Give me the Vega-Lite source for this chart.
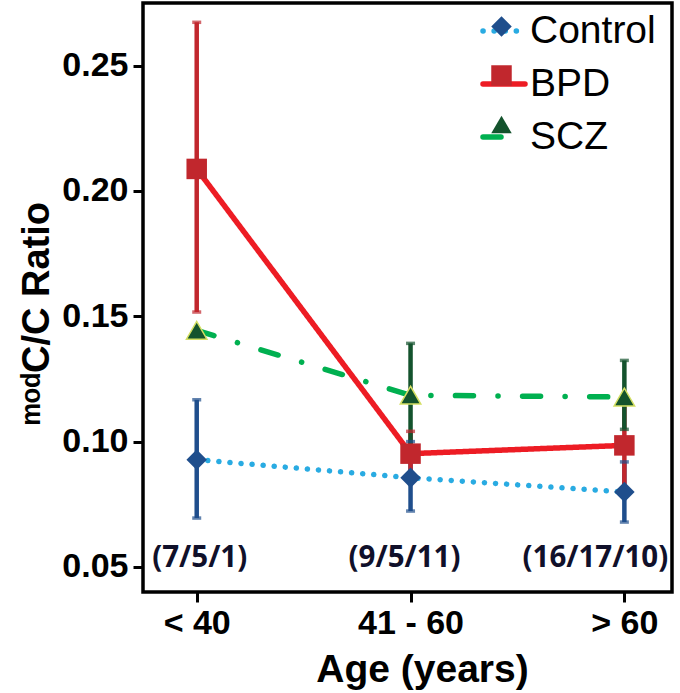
{
  "$schema": "https://vega.github.io/schema/vega-lite/v6.json",
  "width": 529,
  "height": 589,
  "autosize": {"type": "none"},
  "padding": {"left": 143, "top": 3, "right": 8, "bottom": 101},
  "background": "white",
  "datasets": {
    "points": [
      {"age": "< 40", "group": "Control", "ratio": 0.0928, "lo": 0.0695, "hi": 0.1167},
      {"age": "41 - 60", "group": "Control", "ratio": 0.0856, "lo": 0.0723, "hi": 0.1000},
      {"age": "> 60", "group": "Control", "ratio": 0.0799, "lo": 0.0679, "hi": 0.0919},
      {"age": "< 40", "group": "BPD", "ratio": 0.2088, "lo": 0.1517, "hi": 0.2673},
      {"age": "41 - 60", "group": "BPD", "ratio": 0.0952, "lo": 0.0863, "hi": 0.1041},
      {"age": "> 60", "group": "BPD", "ratio": 0.0985, "lo": 0.0806, "hi": 0.1164},
      {"age": "< 40", "group": "SCZ", "ratio": 0.1444, "lo": null, "hi": null},
      {"age": "41 - 60", "group": "SCZ", "ratio": 0.1185, "lo": 0.0978, "hi": 0.1392},
      {"age": "> 60", "group": "SCZ", "ratio": 0.1178, "lo": 0.1049, "hi": 0.1324}
    ],
    "counts": [
      {"age": "< 40", "n": "(7/5/1)"},
      {"age": "41 - 60", "n": "(9/5/11)"},
      {"age": "> 60", "n": "(16/17/10)"}
    ]
  },
  "data": {"name": "points"},
  "encoding": {
    "x": {
      "field": "age",
      "type": "ordinal",
      "sort": ["< 40", "41 - 60", "> 60"],
      "scale": {"type": "point", "padding": 0.237, "align": 0.53},
      "axis": {
        "title": "Age (years)",
        "labelAngle": 0,
        "labelFontSize": 34,
        "labelPadding": 4,
        "titleFontSize": 39,
        "titleX": 279,
        "titleY": 89,
        "titleBaseline": "alphabetic"
      }
    }
  },
  "layer": [
    {
      "mark": {"type": "line", "strokeWidth": 5.5, "strokeCap": "round"},
      "encoding": {
        "y": {
          "field": "ratio", "type": "quantitative",
          "scale": {"domain": [0.04, 0.275], "nice": false, "zero": false},
          "axis": {"title": "ᵐᵒᵈC/C Ratio", "values": [0.05, 0.1, 0.15, 0.2, 0.25], "format": ".2f", "labelFontSize": 34, "labelPadding": 5, "titleFontSize": 38, "titleX": -95, "titleY": 310, "titleBaseline": "alphabetic"}
        },
        "stroke": {
          "field": "group",
          "type": "nominal",
          "scale": {"domain": ["Control", "BPD", "SCZ"], "range": ["#29abe2", "#ed1c24", "#00b050"]},
          "legend": {
            "orient": "none", "legendX": 337, "legendY": 4, "title": null,
            "labelFont": "Liberation Sans", "labelFontSize": 39, "labelColor": "black", "labelOffset": 2,
            "symbolType": "stroke", "symbolSize": 1764, "symbolStrokeWidth": 5.5, "rowPadding": 9, "padding": 0,
            "encode": {"symbols": {"update": {"strokeCap": {"value": "round"}}}}
          }
        },
        "strokeDash": {
          "field": "group",
          "type": "nominal",
          "scale": {"domain": ["Control", "BPD", "SCZ"], "range": [[0.1, 11], [1, 0], [18, 24.5, 0.1, 24.5]]},
          "legend": {
            "orient": "none", "legendX": 337, "legendY": 4, "title": null,
            "labelFont": "Liberation Sans", "labelFontSize": 39, "labelColor": "black", "labelOffset": 2,
            "symbolType": "stroke", "symbolSize": 1764, "symbolStrokeWidth": 5.5, "rowPadding": 9, "padding": 0,
            "encode": {"symbols": {"update": {"strokeCap": {"value": "round"}}}}
          }
        }
      }
    },
    {
      "mark": {"type": "rule", "strokeWidth": 4.5},
      "encoding": {
        "y": {
          "field": "lo", "type": "quantitative",
          "scale": {"domain": [0.04, 0.275], "nice": false, "zero": false},
          "axis": {"title": "ᵐᵒᵈC/C Ratio", "values": [0.05, 0.1, 0.15, 0.2, 0.25], "format": ".2f", "labelFontSize": 34, "labelPadding": 5, "titleFontSize": 38, "titleX": -95, "titleY": 310, "titleBaseline": "alphabetic"}
        },
        "y2": {"field": "hi"},
        "color": {
          "field": "group", "type": "nominal",
          "scale": {"domain": ["Control", "BPD", "SCZ"], "range": ["#1f4e8c", "#c1272d", "#14532d"]},
          "legend": null
        }
      }
    },
    {
      "mark": {"type": "tick", "thickness": 3.5, "size": 9},
      "encoding": {
        "y": {
          "field": "lo", "type": "quantitative",
          "scale": {"domain": [0.04, 0.275], "nice": false, "zero": false},
          "axis": {"title": "ᵐᵒᵈC/C Ratio", "values": [0.05, 0.1, 0.15, 0.2, 0.25], "format": ".2f", "labelFontSize": 34, "labelPadding": 5, "titleFontSize": 38, "titleX": -95, "titleY": 310, "titleBaseline": "alphabetic"}
        },
        "color": {"field": "group", "type": "nominal", "legend": null}
      }
    },
    {
      "mark": {"type": "tick", "thickness": 3.5, "size": 9},
      "encoding": {
        "y": {
          "field": "hi", "type": "quantitative",
          "scale": {"domain": [0.04, 0.275], "nice": false, "zero": false},
          "axis": {"title": "ᵐᵒᵈC/C Ratio", "values": [0.05, 0.1, 0.15, 0.2, 0.25], "format": ".2f", "labelFontSize": 34, "labelPadding": 5, "titleFontSize": 38, "titleX": -95, "titleY": 310, "titleBaseline": "alphabetic"}
        },
        "color": {"field": "group", "type": "nominal", "legend": null}
      }
    },
    {
      "mark": {"type": "point", "filled": true, "size": 420, "opacity": 1, "strokeWidth": 1.5},
      "encoding": {
        "y": {
          "field": "ratio", "type": "quantitative",
          "scale": {"domain": [0.04, 0.275], "nice": false, "zero": false},
          "axis": {"title": "ᵐᵒᵈC/C Ratio", "values": [0.05, 0.1, 0.15, 0.2, 0.25], "format": ".2f", "labelFontSize": 34, "labelPadding": 5, "titleFontSize": 38, "titleX": -95, "titleY": 310, "titleBaseline": "alphabetic"}
        },
        "fill": {
          "field": "group", "type": "nominal", "sort": {"field": "ratio", "op": "min"},
          "scale": {"range": ["#1f4e8c", "#c1272d", "#14532d"]},
          "legend": {
            "orient": "none", "legendX": 339, "legendY": 4, "title": null,
            "labelExpr": "' '",
            "labelFont": "Liberation Sans", "labelFontSize": 39, "labelOpacity": 0, "labelOffset": 2,
            "symbolSize": 420, "symbolStrokeWidth": 0, "rowPadding": 9, "padding": 0
          }
        },
        "shape": {
          "field": "group", "type": "nominal", "sort": {"field": "ratio", "op": "min"},
          "scale": {"range": ["diamond", "square", "triangle-up"]},
          "legend": {
            "orient": "none", "legendX": 339, "legendY": 4, "title": null,
            "labelExpr": "' '",
            "labelFont": "Liberation Sans", "labelFontSize": 39, "labelOpacity": 0, "labelOffset": 2,
            "symbolSize": 420, "symbolStrokeWidth": 0, "rowPadding": 9, "padding": 0
          }
        },
        "stroke": {"condition": {"test": "datum.group === 'SCZ'", "value": "#d4df63"}, "value": "transparent"}
      }
    },
    {
      "data": {"name": "counts"},
      "transform": [{"filter": "datum.age === '< 40'"}],
      "mark": {"type": "text", "font": "Open Sans", "fontWeight": "bold", "fontSize": 29.5, "color": "#10102a", "dx": 3, "baseline": "middle"},
      "encoding": {
        "text": {"field": "n"},
        "y": {"datum": 0.0537, "type": "quantitative", "scale": {"domain": [0.04, 0.275], "nice": false, "zero": false},
          "axis": {"title": "ᵐᵒᵈC/C Ratio", "values": [0.05, 0.1, 0.15, 0.2, 0.25], "format": ".2f", "labelFontSize": 34, "labelPadding": 5, "titleFontSize": 38, "titleX": -95, "titleY": 310, "titleBaseline": "alphabetic"}}
      }
    },
    {
      "data": {"name": "counts"},
      "transform": [{"filter": "datum.age === '41 - 60'"}],
      "mark": {"type": "text", "font": "Open Sans", "fontWeight": "bold", "fontSize": 29.5, "color": "#10102a", "dx": -6, "baseline": "middle"},
      "encoding": {
        "text": {"field": "n"},
        "y": {"datum": 0.0537, "type": "quantitative", "scale": {"domain": [0.04, 0.275], "nice": false, "zero": false},
          "axis": {"title": "ᵐᵒᵈC/C Ratio", "values": [0.05, 0.1, 0.15, 0.2, 0.25], "format": ".2f", "labelFontSize": 34, "labelPadding": 5, "titleFontSize": 38, "titleX": -95, "titleY": 310, "titleBaseline": "alphabetic"}}
      }
    },
    {
      "data": {"name": "counts"},
      "transform": [{"filter": "datum.age === '> 60'"}],
      "mark": {"type": "text", "font": "Open Sans", "fontWeight": "bold", "fontSize": 29.5, "color": "#10102a", "dx": -29, "baseline": "middle"},
      "encoding": {
        "text": {"field": "n"},
        "y": {"datum": 0.0537, "type": "quantitative", "scale": {"domain": [0.04, 0.275], "nice": false, "zero": false},
          "axis": {"title": "ᵐᵒᵈC/C Ratio", "values": [0.05, 0.1, 0.15, 0.2, 0.25], "format": ".2f", "labelFontSize": 34, "labelPadding": 5, "titleFontSize": 38, "titleX": -95, "titleY": 310, "titleBaseline": "alphabetic"}}
      }
    }
  ],
  "config": {
    "view": {"stroke": "black", "strokeWidth": 3.5},
    "axis": {
      "grid": false,
      "domain": false,
      "tickColor": "black",
      "tickWidth": 3,
      "tickSize": 10,
      "labelColor": "black",
      "titleColor": "black",
      "labelFont": "Liberation Sans",
      "titleFont": "Liberation Sans",
      "labelFontWeight": "bold",
      "titleFontWeight": "bold"
    }
  }
}
